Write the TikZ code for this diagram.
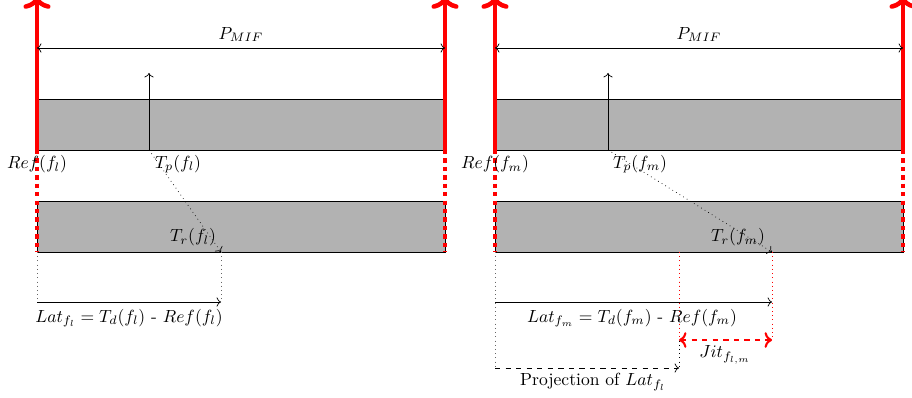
\documentclass[tikz,border=0pt]{standalone}
\usetikzlibrary{arrows.meta,positioning,calc}

\begin{document}
\begin{tikzpicture}[
  x=0.02cm, y=-0.02cm,
  >=To,
  frame/.style={draw, fill=black!30},
  refline/.style={red, line width=2.6pt},
  refdots/.style={red, line width=2.6pt, dash pattern=on 2.4pt off 2.4pt},
  link/.style={dotted, ->},
  guide/.style={dotted, black!60},
  jit/.style={red, very thick, dashed, <->}
]
\useasboundingbox (0,0) rectangle (912,398);

% Frame f_l (left)
\coordinate (l-ref) at (37,150);
\coordinate (l-reftop) at (37,-4);
\coordinate (l-refbot) at (37,252);
\coordinate (l-nxt) at (445,150);
\coordinate (l-nxttop) at (445,-4);
\coordinate (l-nxtbot) at (445,252);
\coordinate (l-tp) at (149,150);
\coordinate (l-tptop) at (149,73);
\coordinate (l-tr) at (221,252);
\coordinate (l-lat0) at (37,302);
\coordinate (l-lat1) at (221,302);

\draw[frame] (37,99) rectangle (445,150);
\draw[frame] (37,201) rectangle (445,252);
\draw[refline,->] (l-ref) -- (l-reftop);
\draw[refline,->] (l-nxt) -- (l-nxttop);
\draw[refdots] (l-ref) -- (l-refbot);
\draw[refdots] (l-nxt) -- (l-nxtbot);

\draw[<->] (37,48) -- node[above] (l-pmif) {$P_{MIF}$} (445,48);
\draw[->] (l-tp) -- (l-tptop);
\draw[link] (l-tp) -- (l-tr);

\node (l-reflbl) at (37,164) {$Ref(f_l)$};
\node (l-tplbl) at (178,164) {$T_p(f_l)$};
\node (l-trlbl) at (193,237) {$T_r(f_l)$};

\draw[guide] (l-refbot) -- (l-lat0);
\draw[guide] (l-tr) -- (l-lat1);
\draw[->] (l-lat0) -- (l-lat1);
\node (l-latlbl) at (129,318) {$Lat_{f_l} = T_d(f_l)$ - $Ref(f_l)$};

% Frame f_m (right)
\coordinate (m-ref) at (495,150);
\coordinate (m-reftop) at (495,-4);
\coordinate (m-refbot) at (495,252);
\coordinate (m-nxt) at (903,150);
\coordinate (m-nxttop) at (903,-4);
\coordinate (m-nxtbot) at (903,252);
\coordinate (m-tp) at (608,150);
\coordinate (m-tptop) at (608,73);
\coordinate (m-tr) at (772,252);
\coordinate (m-proj) at (679,252);
\coordinate (m-lat0) at (495,302);
\coordinate (m-lat1) at (772,302);
\coordinate (m-jit0) at (679,340);
\coordinate (m-jit1) at (772,340);
\coordinate (m-pr0) at (495,368);
\coordinate (m-pr1) at (679,368);

\draw[frame] (495,99) rectangle (903,150);
\draw[frame] (495,201) rectangle (903,252);
\draw[refline,->] (m-ref) -- (m-reftop);
\draw[refline,->] (m-nxt) -- (m-nxttop);
\draw[refdots] (m-ref) -- (m-refbot);
\draw[refdots] (m-nxt) -- (m-nxtbot);

\draw[<->] (495,48) -- node[above] (m-pmif) {$P_{MIF}$} (903,48);
\draw[->] (m-tp) -- (m-tptop);
\draw[link] (m-tp) -- (m-tr);

\node (m-reflbl) at (495,164) {$Ref(f_m)$};
\node (m-tplbl) at (640,164) {$T_p(f_m)$};
\node (m-trlbl) at (738,237) {$T_r(f_m)$};

\draw[guide] (m-refbot) -- (m-pr0);
\draw[dotted] (m-proj) -- (m-pr1);
\draw[dotted, red] (m-proj) -- (m-jit0);
\draw[dotted, red] (m-tr) -- (m-jit1);
\draw[->] (m-lat0) -- (m-lat1);
\node (m-latlbl) at (632,318) {$Lat_{f_m} = T_d(f_m)$ - $Ref(f_m)$};

\draw[jit] (m-jit0) -- (m-jit1);
\node (m-jitlbl) at (725,355) {$Jit_{f_{l,m}}$};

\draw[dashed,->] (m-pr0) -- (m-pr1);
\node (m-prlbl) at (593,382) {Projection of $Lat_{f_l}$};

\end{tikzpicture}
\end{document}
